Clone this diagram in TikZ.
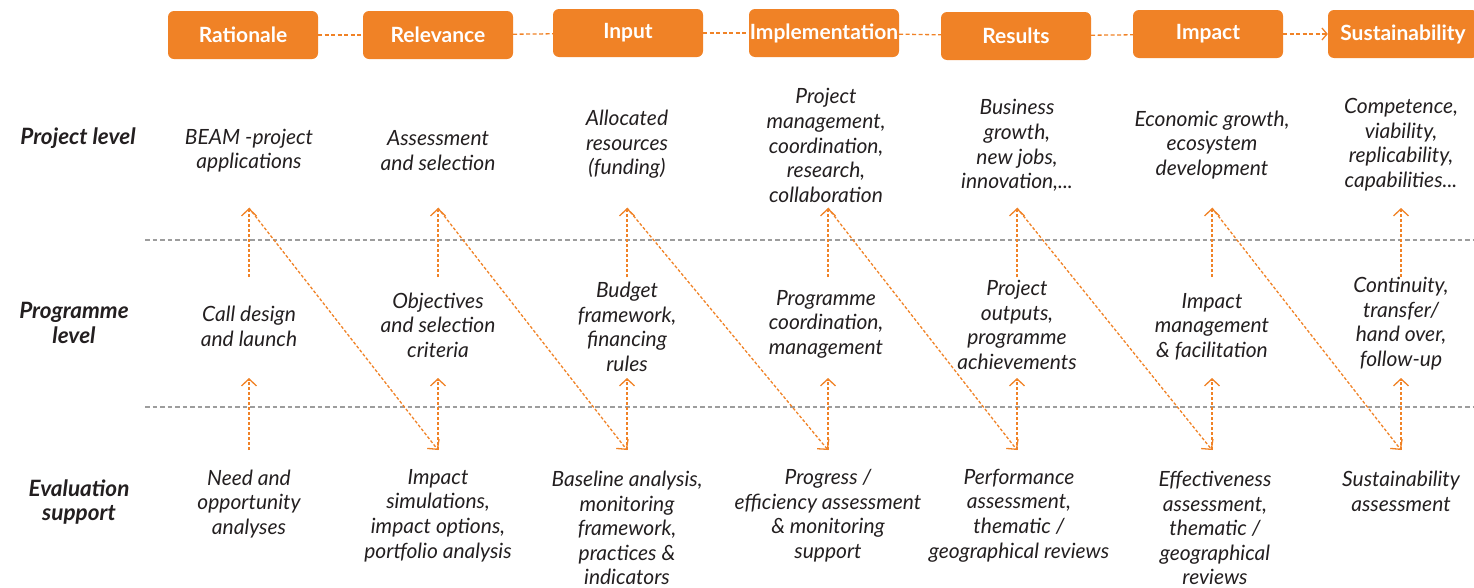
\documentclass[tikz,border=0pt]{standalone}
\usepackage{fontspec}
\setmainfont{Lato}
\usepackage{tikz}
\usetikzlibrary{arrows.meta}
\definecolor{myorange}{RGB}{240,130,38}
\definecolor{mygrey}{RGB}{157,157,157}
\definecolor{mytext}{RGB}{35,31,32}

\tikzset{
  head/.style={fill=myorange,rounded corners=6pt,minimum width=150pt,minimum height=48pt,
    inner sep=0pt,text=white,font=\fontsize{21}{24}\selectfont\bfseries},
  txt/.style={align=center,inner sep=0pt,text=mytext,font=\fontsize{21}{24.6}\selectfont\itshape},
  rowlab/.style={txt,font=\fontsize{22.5}{24.6}\selectfont\bfseries\itshape},
  link/.style={myorange,line width=1.3pt,dash pattern=on 4pt off 2.5pt},
  flow/.style={myorange,line width=1.3pt,dash pattern=on 3pt off 2pt,
    -{Straight Barb[length=7pt,width=15pt,line width=1.3pt]}},
  sep/.style={mygrey,line width=1.2pt,dash pattern=on 4.5pt off 3pt}
}

\begin{document}
\begin{tikzpicture}[x=1pt,y=-1pt]
  \useasboundingbox (0,0) rectangle (1474,587);
  % phase boxes along the top
  \node[head] (h1) at (243,35)  {Rationale};
  \node[head] (h2) at (438,35)  {Relevance};
  \node[head] (h3) at (628,33)  {Input};
  \node[head] (h4) at (824,33)  {Implementation};
  \node[head] (h5) at (1016,36) {Results};
  \node[head] (h6) at (1208,34) {Impact};
  \node[head] (h7) at (1403,34) {Sustainability};
  \foreach \i/\j in {1/2,2/3,3/4,4/5,5/6} \draw[link] (h\i) -- (h\j);
  \draw[link,-{Straight Barb[length=5pt,width=12pt,line width=1.3pt]}] (h6) -- (h7);

  % row labels
  \node[rowlab] (rp) at (78,138)  {Project level};
  \node[rowlab] (rg) at (74,323)  {Programme\\level};
  \node[rowlab] (re) at (79,502)  {Evaluation\\support};

  \draw[sep] (145,240) -- (1474,240);
  \draw[sep] (145,407) -- (1474,407);

  % project level
  \node[txt] (p1) at (249,150.5)  {BEAM -project\\applications};
  \node[txt] (p2) at (438,150.5)  {Assessment\\and selection};
  \node[txt] (p3) at (627,144.5)  {Allocated\\resources\\(funding)};
  \node[txt] (p4) at (826,145.5)  {Project\\management,\\coordination,\\research,\\collaboration};
  \node[txt] (p5) at (1017,145.5) {Business\\growth,\\new jobs,\\innovation,...};
  \node[txt] (p6) at (1212,145)   {Economic growth,\\ecosystem\\development};
  \node[txt] (p7) at (1401,144.5) {Competence,\\viability,\\replicability,\\capabilities...};

  % programme level
  \node[txt] (g1) at (249,326.5)  {Call design\\and launch};
  \node[txt] (g2) at (438,325)    {Objectives\\and selection\\criteria};
  \node[txt] (g3) at (627,327)    {Budget\\framework,\\financing\\rules};
  \node[txt] (g4) at (826,324)    {Programme\\coordination,\\management};
  \node[txt] (g5) at (1017,325)   {Project\\outputs,\\programme\\achievements};
  \node[txt] (g6) at (1212,326.5) {Impact\\management\\\& facilitation};
  \node[txt] (g7) at (1401,323.5) {Continuity,\\transfer/\\hand over,\\follow-up};

  % evaluation support
  \node[txt] (e1) at (249,504)    {Need and\\opportunity\\analyses};
  \node[txt] (e2) at (438,515.5)  {Impact\\simulations,\\impact options,\\portfolio analysis};
  \node[txt] (e3) at (627,528)    {Baseline analysis,\\monitoring\\framework,\\practices \&\\indicators};
  \node[txt] (e4) at (828,515.5)  {Progress /\\efficiency assessment\\\& monitoring\\support};
  \node[txt] (e5) at (1019,515.5) {Performance\\assessment,\\thematic /\\geographical reviews};
  \node[txt] (e6) at (1215,528)   {Effectiveness\\assessment,\\thematic /\\geographical\\reviews};
  \node[txt] (e7) at (1401,491.5) {Sustainability\\assessment};

  % arrow ends in each column
  \foreach \i/\x in {1/249,2/438,3/627,4/828,5/1017,6/1212,7/1401} {
    \coordinate (ut\i) at (\x,208);
    \coordinate (ub\i) at (\x,277);
    \coordinate (lt\i) at (\x,378);
    \coordinate (lb\i) at (\x,450);
  }
  \foreach \i in {1,...,7} {
    \draw[flow] (ub\i) -- (ut\i);
    \draw[flow] (lb\i) -- (lt\i);
  }
  \foreach \i/\j in {1/2,2/3,3/4,4/5,5/6,6/7} \draw[flow] (ut\i) -- (lb\j);
\end{tikzpicture}
\end{document}
